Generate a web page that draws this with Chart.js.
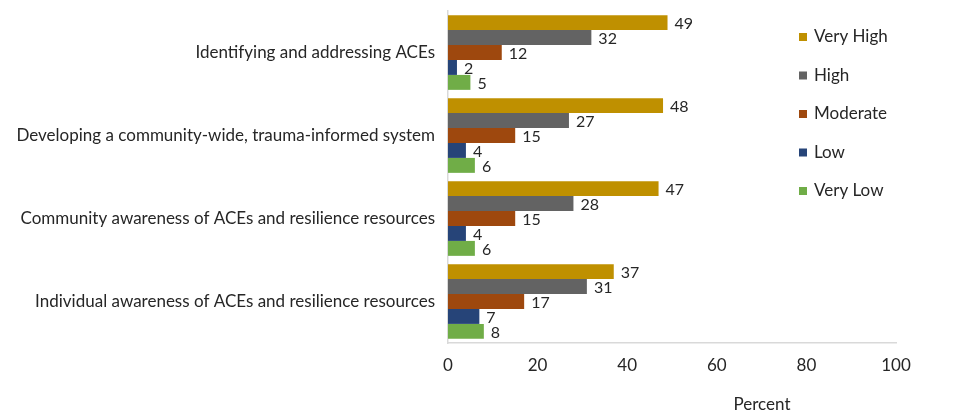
<!DOCTYPE html>
<html>
<head>
<meta charset="utf-8">
<script src="https://cdn.jsdelivr.net/npm/chart.js@4"></script>
<style>
  html, body { margin: 0; padding: 0; background: #fff; }
  #wrap { position: relative; width: 954px; height: 413px; }
</style>
</head>
<body>
<div id="wrap"><canvas id="barChart" width="954" height="413"></canvas></div>
<script>
var categories = [
  'Identifying and addressing ACEs',
  'Developing a community-wide, trauma-informed system',
  'Community awareness of ACEs and resilience resources',
  'Individual awareness of ACEs and resilience resources'
];
var seriesNames = ['Very High', 'High', 'Moderate', 'Low', 'Very Low'];
var veryHigh = [49, 48, 47, 37];
var high = [32, 27, 28, 31];
var moderate = [12, 15, 15, 17];
var low = [2, 4, 4, 7];
var veryLow = [5, 6, 6, 8];
var xTicks = [0, 20, 40, 60, 80, 100];

var colors = ['#BF9000', '#636363', '#9E480E', '#264478', '#70AD47'];
var FONT = 'Lato, "Open Sans", sans-serif';
var TEXT = '#262626';

var seriesValues = [veryHigh, high, moderate, low, veryLow];
var datasets = [];
for (var i = 0; i < seriesNames.length; i++) {
  datasets.push({
    label: seriesNames[i],
    data: seriesValues[i],
    backgroundColor: colors[i],
    borderWidth: 0,
    categoryPercentage: 0.9,
    barPercentage: 1.0
  });
}

// value labels at the end of each bar
var valueLabels = {
  id: 'valueLabels',
  afterDatasetsDraw: function(chart) {
    var ctx = chart.ctx;
    ctx.save();
    ctx.font = '16px ' + FONT;
    ctx.fillStyle = TEXT;
    ctx.textAlign = 'left';
    ctx.textBaseline = 'middle';
    chart.data.datasets.forEach(function(ds, di) {
      chart.getDatasetMeta(di).data.forEach(function(bar, j) {
        ctx.fillText(ds.data[j], bar.x + 7, bar.y + 1);
      });
    });
    ctx.restore();
  }
};

// legend drawn over the right part of the plot, like the original
var sideLegend = {
  id: 'sideLegend',
  afterDraw: function(chart) {
    var ctx = chart.ctx;
    ctx.save();
    ctx.font = '17px ' + FONT;
    ctx.textBaseline = 'middle';
    ctx.textAlign = 'left';
    chart.data.datasets.forEach(function(ds, i) {
      var y = 37 + i * 38.5;
      ctx.fillStyle = ds.backgroundColor;
      ctx.fillRect(799, y - 4, 8, 8);
      ctx.fillStyle = TEXT;
      ctx.fillText(ds.label, 814, y);
    });
    // axis title
    ctx.textAlign = 'center';
    ctx.fillText('Percent', 762, 405);
    ctx.restore();
  }
};

new Chart(document.getElementById('barChart').getContext('2d'), {
  type: 'bar',
  data: { labels: categories, datasets: datasets },
  plugins: [valueLabels, sideLegend],
  options: {
    indexAxis: 'y',
    responsive: false,
    animation: false,
    layout: { padding: { top: 11, right: 58, left: 0, bottom: 0 } },
    plugins: {
      legend: { display: false },
      tooltip: { enabled: false }
    },
    scales: {
      x: {
        min: 0,
        max: 100,
        afterBuildTicks: function(scale) {
          scale.ticks = xTicks.map(function(v) { return { value: v }; });
        },
        afterFit: function(scale) {
          scale.height = 70;
          scale.paddingLeft = 0;
          scale.paddingRight = 0;
        },
        grid: { display: false, drawTicks: false },
        border: { display: true, color: '#D9D9D9', width: 1.5 },
        ticks: { padding: 12, color: TEXT, font: { family: FONT, size: 17 } }
      },
      y: {
        afterFit: function(scale) {
          scale.width = 448;
          scale.paddingTop = 0;
          scale.paddingBottom = 0;
        },
        grid: { display: false, drawTicks: false },
        border: { display: true, color: '#D9D9D9', width: 1.5 },
        ticks: { padding: 13, color: TEXT, font: { family: FONT, size: 17 } }
      }
    }
  }
});
</script>
</body>
</html>
